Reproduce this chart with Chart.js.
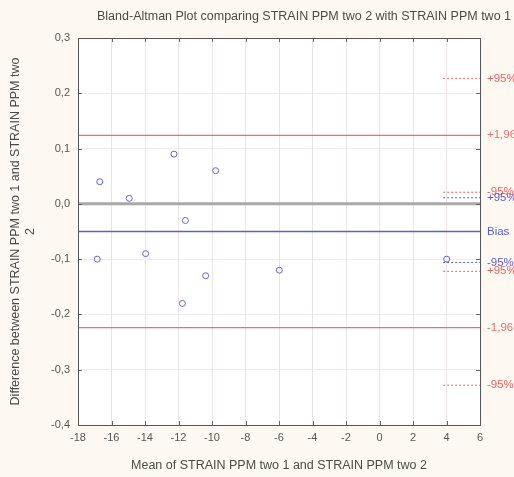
<!DOCTYPE html>
<html><head><meta charset="utf-8">
<script src="https://cdn.jsdelivr.net/npm/chart.js@4.4.1/dist/chart.umd.min.js"></script>
<style>html,body{margin:0;padding:0;background:#fdf8f1;}#wrap{width:514px;height:477px;}</style>
</head><body><div id="wrap"><canvas id="c" width="514" height="477"></canvas></div>
<script>
const meanX = [-16.85, -16.7, -14.94, -13.96, -12.27, -11.77, -11.59, -10.38, -9.78, -5.98, 4.01];
const diffY = [-0.10, 0.04, 0.01, -0.09, 0.09, -0.18, -0.03, -0.13, 0.06, -0.12, -0.10];
const xTicks = [-18, -16, -14, -12, -10, -8, -6, -4, -2, 0, 2, 4, 6];
const yTicks = [-0.4, -0.3, -0.2, -0.1, 0.0, 0.1, 0.2, 0.3];
const biasValue = -0.05;
const upperLoA = 0.124;
const lowerLoA = -0.224;
const ciLines = [
  {y: 0.227, label: '+95%', color: '#e06464'},
  {y: 0.021, label: '-95%', color: '#e06464'},
  {y: 0.011, label: '+95%', color: '#5a5ad2'},
  {y: -0.106, label: '-95%', color: '#5a5ad2'},
  {y: -0.122, label: '+95%', color: '#e06464'},
  {y: -0.328, label: '-95%', color: '#e06464'}
];
const mainLines = [
  {y: upperLoA, label: '+1,96', color: '#e87070'},
  {y: biasValue, label: 'Bias', color: '#5c5cd8'},
  {y: lowerLoA, label: '-1,96', color: '#e87070'}
];
const titleText = 'Bland-Altman Plot comparing STRAIN PPM two 2 with STRAIN PPM two 1';
const xTitle = 'Mean of STRAIN PPM two 1 and STRAIN PPM two 2';
const yTitle = ['Difference between STRAIN PPM two 1 and STRAIN PPM two', '2'];
const FONT = '"Liberation Sans", Arial, sans-serif';

const fmt = v => (Math.round(v*10)/10).toFixed(1).replace('.', ',');
const fmtX = v => String(v);

const datasets = [];
datasets.push({type:'line', data:[{x:-18,y:0},{x:6,y:0}], borderColor:'#a9a9a9', borderWidth:3, pointRadius:0, order:5});
mainLines.forEach(l => datasets.push({type:'line', data:[{x:-18,y:l.y},{x:6,y:l.y}], borderColor:l.color, borderWidth:1.3, pointRadius:0, order:4}));
ciLines.forEach(l => datasets.push({type:'line', data:[{x:3.8,y:l.y},{x:6,y:l.y}], borderColor:l.color, borderWidth:1, borderDash:[2,2], pointRadius:0, order:4}));
datasets.push({type:'scatter', data: meanX.map((x,i)=>({x:x,y:diffY[i]})), borderColor:'#6464d2', backgroundColor:'rgba(0,0,0,0)', borderWidth:1, pointRadius:3, order:1});

const bgPlugin = {
  id:'bg',
  beforeDraw(chart){
    const {ctx, chartArea:a} = chart;
    ctx.save();
    ctx.fillStyle = '#fdf8f1';
    ctx.fillRect(0,0,chart.width,chart.height);
    ctx.fillStyle = '#ffffff';
    ctx.fillRect(a.left,a.top,a.right-a.left,a.bottom-a.top);
    ctx.restore();
  },
  afterDraw(chart){
    const {ctx, chartArea:a, scales} = chart;
    ctx.save();
    ctx.strokeStyle = '#666';
    ctx.lineWidth = 1;
    ctx.beginPath();
    xTicks.forEach(v => {
      const px = Math.round(scales.x.getPixelForValue(v)) + 0.5;
      ctx.moveTo(px, a.bottom); ctx.lineTo(px, a.bottom-4);
      ctx.moveTo(px, a.top); ctx.lineTo(px, a.top+4);
    });
    yTicks.forEach(v => {
      const py = Math.round(scales.y.getPixelForValue(v)) + 0.5;
      ctx.moveTo(a.left, py); ctx.lineTo(a.left+4, py);
      ctx.moveTo(a.right, py); ctx.lineTo(a.right-4, py);
    });
    ctx.stroke();
    ctx.strokeStyle = '#555';
    ctx.strokeRect(Math.round(a.left)+0.5, Math.round(a.top)+0.5, Math.round(a.right-a.left), Math.round(a.bottom-a.top));
    ctx.fillStyle = '#4a4a4a';
    ctx.font = '12.5px ' + FONT;
    ctx.textBaseline = 'middle';
    ctx.textAlign = 'left';
    ctx.fillText(titleText, 97, 17);
    ctx.font = '11.5px ' + FONT;
    mainLines.concat(ciLines).forEach(l => {
      ctx.fillStyle = l.color;
      ctx.fillText(l.label, a.right + 7, scales.y.getPixelForValue(l.y));
    });
    ctx.restore();
  }
};

new Chart(document.getElementById('c'), {
  data:{datasets},
  options:{
    responsive:false, animation:false,
    layout:{padding:{top:38, right:34, left:0, bottom:0}},
    plugins:{legend:{display:false}, tooltip:{enabled:false}, title:{display:false}},
    scales:{
      x:{type:'linear', min:-18, max:6,
        afterBuildTicks(s){ s.ticks = xTicks.map(v=>({value:v})); },
        afterFit(s){ s.height = 52; },
        border:{display:false},
        grid:{color:'#ebe4e4', drawTicks:false},
        ticks:{color:'#555', font:{size:11, family:FONT}, padding:6, maxRotation:0, callback:v=>fmtX(v)},
        title:{display:true, text:xTitle, color:'#4a4a4a', font:{size:12.5, family:FONT}, padding:{top:7}}
      },
      y:{type:'linear', min:-0.4, max:0.3,
        afterBuildTicks(s){ s.ticks = yTicks.map(v=>({value:v})); },
        afterFit(s){ s.width = 78; },
        border:{display:false},
        grid:{color:'#eeeaea', drawTicks:false},
        ticks:{color:'#555', font:{size:11, family:FONT}, padding:8, callback:v=>fmt(v)},
        title:{display:true, text:yTitle, color:'#4a4a4a', font:{size:12.5, family:FONT, lineHeight:1.2}, padding:{top:8, bottom:0}}
      }
    }
  },
  plugins:[bgPlugin]
});
</script></body></html>
